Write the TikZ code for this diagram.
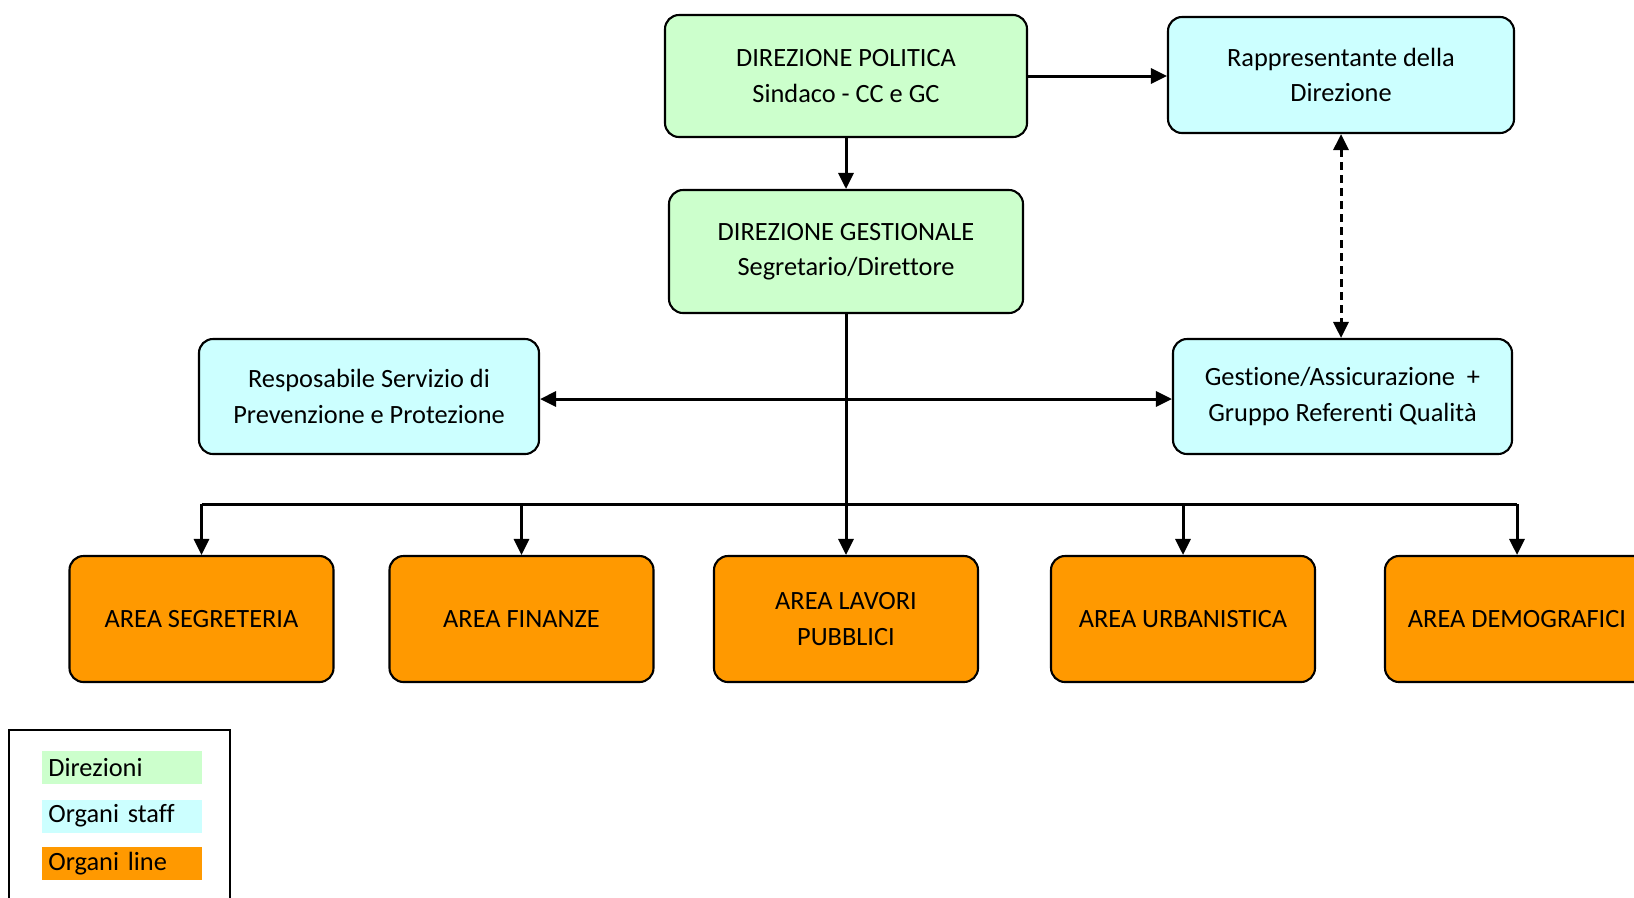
\documentclass[tikz,border=0pt]{standalone}
\usepackage{fontspec}
\setmainfont[Ligatures=NoCommon]{Carlito}
\usetikzlibrary{arrows.meta}
\definecolor{dirgreen}{HTML}{CCFFCC}
\definecolor{staffcyan}{HTML}{CCFFFF}
\definecolor{lineorange}{HTML}{FF9900}
\begin{document}
\begin{tikzpicture}[
  every node/.style={font=\fontsize{15}{20.2}\selectfont},
  box/.style={draw,line width=1.2pt,rounded corners=0.28cm,align=center,inner sep=0pt},
  dirbox/.style={box,fill=dirgreen},
  staffbox/.style={box,fill=staffcyan},
  areabox/.style={box,fill=lineorange,minimum width=5.28cm,minimum height=2.52cm},
  legitem/.style={anchor=west,inner xsep=0.12cm,inner ysep=0pt,text width=2.96cm,align=left,minimum height=0.66cm},
  link/.style={line width=1.7pt,-{Triangle[length=0.32cm,width=0.3cm]}},
  both/.style={link,{Triangle[length=0.32cm,width=0.3cm]}-{Triangle[length=0.32cm,width=0.3cm]}}]
 \useasboundingbox (0,0) rectangle (32.68,-17.94);
 \node[dirbox,minimum width=7.24cm,minimum height=2.44cm] (politica) at (16.92,-1.52)
   {DIREZIONE POLITICA\\Sindaco - CC e GC};
 \node[staffbox,minimum width=6.92cm,minimum height=2.32cm] (rappr) at (26.82,-1.5)
   {Rappresentante della\\Direzione};
 \node[dirbox,minimum width=7.08cm,minimum height=2.46cm] (gestionale) at (16.92,-5.03)
   {DIREZIONE GESTIONALE\\Segretario/Direttore};
 \node[staffbox,minimum width=6.8cm,minimum height=2.3cm] (rspp) at (7.38,-7.93)
   {Resposabile Servizio di\\Prevenzione e Protezione};
 \node[staffbox,minimum width=6.78cm,minimum height=2.3cm] (gestqual) at (26.85,-7.93)
   {Gestione/Assicurazione~~+\\Gruppo Referenti Qualità};
 \node[areabox] (segreteria) at (4.03,-12.38) {AREA SEGRETERIA};
 \node[areabox] (finanze) at (10.43,-12.38) {AREA FINANZE};
 \node[areabox] (lavori) at (16.92,-12.38) {AREA LAVORI\\PUBBLICI};
 \node[areabox] (urbanistica) at (23.66,-12.38) {AREA URBANISTICA};
 \node[areabox] (demografici) at (30.34,-12.38) {AREA DEMOGRAFICI};
 \coordinate (bus) at (16.92,-10.08);
 \draw[link] (politica.east) -- (politica.east -| rappr.west);
 \draw[link] (politica) -- (gestionale);
 \draw[both,dashed,dash pattern=on 0.16cm off 0.1cm] (rappr.south) -- (rappr.south |- gestqual.north);
 \draw[both] ([yshift=-0.05cm]rspp.east) -- ([yshift=-0.05cm]rspp.east -| gestqual.west);
 \draw[link] (gestionale) -- (lavori);
 \draw[line width=1.7pt] (segreteria.north |- bus) -- (demografici.north |- bus);
 \foreach \a in {segreteria,finanze,urbanistica,demografici}
   \draw[link] (\a.north |- bus) -- (\a.north);
 \draw[line width=1.2pt] (0.18,-18.5) -- (0.18,-14.6) -- (4.6,-14.6) -- (4.6,-18.5);
 \node[legitem,fill=dirgreen] (legdir) at (0.84,-15.35) {Direzioni};
 \node[legitem,fill=staffcyan] (legstaff) at (0.84,-16.32) {Organi staff};
 \node[legitem,fill=lineorange] (legline) at (0.84,-17.27) {Organi line};
\end{tikzpicture}
\end{document}
